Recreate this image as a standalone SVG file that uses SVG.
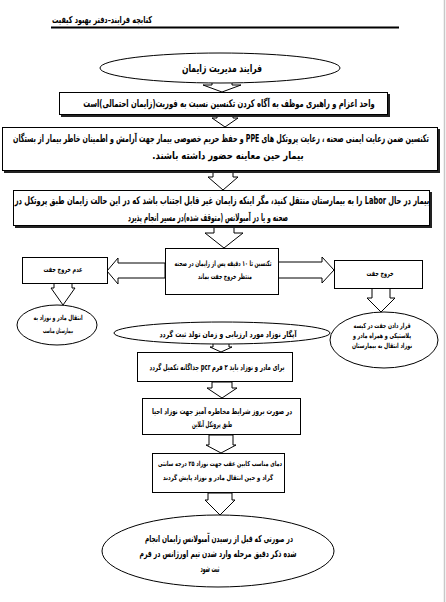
<svg xmlns="http://www.w3.org/2000/svg" width="446" height="602" viewBox="0 0 446 602">
<style>
.t{font-family:"DejaVu Sans",sans-serif;font-weight:bold;fill:#000;text-anchor:middle}
.box{fill:#fff;stroke:#000;stroke-width:1}
.sh{fill:#222}
.arr{fill:#fff;stroke:#000;stroke-width:1;stroke-linejoin:miter}
</style>
<rect x="0" y="0" width="446" height="602" fill="#fff"/>
<line x1="444.5" y1="0" x2="444.5" y2="602" stroke="#c8c8c8" stroke-width="1.5"/>

<g id="header">
<text class="t" x="102" y="23" font-size="9.5" textLength="100" lengthAdjust="spacingAndGlyphs">&#x202B;کتابچه فرایند–دفتر بهبود کیفیت&#x202C;</text>
<line x1="51" y1="27.5" x2="399" y2="27.5" stroke="#000" stroke-width="2"/>
</g>

<g id="connectors">
<path class="arr" d="M212,78 L232,78 L232,85 L241,85 L222,92 L203,85 L212,85 Z"/>
<path class="arr" d="M217,115 L233,115 L233,118 L238,118 L225,127 L212,118 L217,118 Z"/>
<path class="arr" d="M213,171 L233,171 L233,177 L238,177 L223,190 L208,177 L213,177 Z"/>
<path class="arr" d="M214,226 L234,226 L234,233 L243,233 L224,248 L205,233 L214,233 Z"/>
<path class="arr" d="M165,263 L118,263 L118,258 L107,271 L118,284 L118,278 L165,278 Z"/>
<path class="arr" d="M278,262 L322,262 L322,257 L334,270 L322,283 L322,278 L278,278 Z"/>
<path class="arr" d="M54,283 L72,283 L72,288 L75,288 L63,305 L51,288 L54,288 Z"/>
<path class="arr" d="M372,288 L390,288 L390,298 L395,298 L381,312 L367,298 L372,298 Z"/>
<path class="arr" d="M213,340 L229,340 L229,347 L232,347 L221,352 L210,347 L213,347 Z"/>
<path class="arr" d="M212,382 L232,382 L232,388 L237,388 L222,398 L207,388 L212,388 Z"/>
<path class="arr" d="M209,435 L233,435 L233,445 L236,445 L221,453 L206,445 L209,445 Z"/>
<path class="arr" d="M208,493 L232,493 L232,500 L235,500 L220,515 L205,500 L208,500 Z"/>
</g>

<g id="start">
<ellipse class="box" cx="220" cy="68" rx="120" ry="15"/>
<text class="t" x="222" y="72" font-size="11" textLength="80" lengthAdjust="spacingAndGlyphs">&#x202B;فرایند مدیریت زایمان&#x202C;</text>
</g>

<g id="box1">
<rect class="sh" x="61" y="94" width="329" height="23"/>
<rect class="box" x="59.5" y="92.5" width="328" height="22"/>
<text class="t" x="229" y="107" font-size="10.5" transform="matrix(0.641,0,0,1,82.2,0)">&#x202B;واحد اعزام و راهبری موظف به آگاه کردن تکنسین نسبت به فوریت(زایمان احتمالی)است&#x202C;</text>
</g>

<g id="box2">
<rect class="sh" x="4" y="129" width="436" height="44"/>
<rect class="box" x="2.5" y="127.5" width="435" height="43"/>
<text class="t" x="221" y="142" font-size="10.5" transform="matrix(0.6025,0,0,1,87.85,0)">&#x202B;تکنسین ضمن رعایت ایمنی صحنه ، رعایت پروتکل های PPE و حفظ حریم خصوصی بیمار جهت آرامش و اطمینان خاطر بیمار از بستگان&#x202C;</text>
<text class="t" x="228" y="159" font-size="10.5" transform="matrix(0.802,0,0,1,45.1,0)">&#x202B;بیمار حین معاینه حضور داشته باشند.&#x202C;</text>
</g>

<g id="box3">
<rect class="sh" x="15" y="192" width="417" height="36"/>
<rect class="box" x="13.5" y="190.5" width="416" height="35"/>
<text class="t" x="222" y="204" font-size="10.5" transform="matrix(0.634,0,0,1,81.2,0)">&#x202B;بیمار در حال Labor را به بیمارستان منتقل کنید، مگر اینکه زایمان غیر قابل اجتناب باشد که در این حالت زایمان طبق پروتکل در&#x202C;</text>
<text class="t" x="208" y="221" font-size="10.5" textLength="160" lengthAdjust="spacingAndGlyphs">&#x202B;صحنه و یا در آمبولانس (متوقف شده)در مسیر انجام پذیرد&#x202C;</text>
</g>

<g id="wait">
<rect class="box" x="165.5" y="248.5" width="113" height="46"/>
<text class="t" x="223" y="266" font-size="7.5" textLength="97" lengthAdjust="spacingAndGlyphs">&#x202B;تکنسین تا ۱۰ دقیقه پس از زایمان در صحنه&#x202C;</text>
<text class="t" x="225" y="279" font-size="7.5" textLength="54" lengthAdjust="spacingAndGlyphs">&#x202B;منتظر خروج جفت بماند&#x202C;</text>
</g>

<g id="noexit">
<rect class="box" x="22.5" y="257.5" width="85" height="26"/>
<text class="t" x="63" y="272" font-size="7.5" textLength="39" lengthAdjust="spacingAndGlyphs">&#x202B;عدم خروج جفت&#x202C;</text>
</g>

<g id="exit">
<rect class="box" x="334.5" y="260.5" width="88" height="28"/>
<text class="t" x="380" y="276" font-size="7.5" textLength="27" lengthAdjust="spacingAndGlyphs">&#x202B;خروج جفت&#x202C;</text>
</g>

<g id="transfer">
<ellipse class="box" cx="57" cy="325" rx="40" ry="20"/>
<text class="t" x="58" y="320" font-size="7" textLength="49" lengthAdjust="spacingAndGlyphs">&#x202B;انتقال مادر و نوزاد به&#x202C;</text>
<text class="t" x="58" y="333" font-size="7" textLength="30" lengthAdjust="spacingAndGlyphs">&#x202B;بیمارستان مناسب&#x202C;</text>
</g>

<g id="placenta">
<ellipse class="box" cx="384" cy="340" rx="54" ry="28"/>
<text class="t" x="382" y="328" font-size="7" textLength="57" lengthAdjust="spacingAndGlyphs">&#x202B;قرار دادن جفت در کیسه&#x202C;</text>
<text class="t" x="382" y="338" font-size="7" textLength="58" lengthAdjust="spacingAndGlyphs">&#x202B;پلاستیکی و همراه مادر و&#x202C;</text>
<text class="t" x="382" y="348" font-size="7" textLength="60" lengthAdjust="spacingAndGlyphs">&#x202B;نوزاد انتقال به بیمارستان&#x202C;</text>
</g>

<g id="apgar">
<ellipse class="box" cx="222" cy="333" rx="108" ry="11"/>
<text class="t" x="228" y="337" font-size="8" textLength="137" lengthAdjust="spacingAndGlyphs">&#x202B;آپگار نوزاد مورد ارزیابی و زمان تولد ثبت گردد&#x202C;</text>
</g>

<g id="pcr">
<rect class="box" x="137.5" y="352.5" width="155" height="29"/>
<text class="t" x="217" y="370" font-size="8" textLength="135" lengthAdjust="spacingAndGlyphs">&#x202B;برای مادر و نوزاد باید ۲ فرم pcr جداگانه تکمیل گردد&#x202C;</text>
</g>

<g id="resus">
<rect class="box" x="142.5" y="398.5" width="158" height="36"/>
<text class="t" x="222" y="414" font-size="8" textLength="140" lengthAdjust="spacingAndGlyphs">&#x202B;در صورت بروز شرایط مخاطره آمیز جهت نوزاد احیا&#x202C;</text>
<text class="t" x="212" y="427" font-size="8" textLength="40" lengthAdjust="spacingAndGlyphs">&#x202B;طبق پروتکل آنلاین&#x202C;</text>
</g>

<g id="temp">
<rect class="box" x="152.5" y="453.5" width="132" height="39"/>
<text class="t" x="220" y="466" font-size="7" textLength="124" lengthAdjust="spacingAndGlyphs">&#x202B;دمای مناسب کابین عقب جهت نوزاد ۲۵ درجه سانتی&#x202C;</text>
<text class="t" x="218" y="480" font-size="7" textLength="110" lengthAdjust="spacingAndGlyphs">&#x202B;گراد و حین انتقال مادر و نوزاد پایش گردند&#x202C;</text>
</g>

<g id="end">
<ellipse class="box" cx="218" cy="551" rx="116" ry="36"/>
<text class="t" x="219" y="542" font-size="9.5" textLength="148" lengthAdjust="spacingAndGlyphs">&#x202B;در صورتی که قبل از رسیدن آمبولانس زایمان انجام&#x202C;</text>
<text class="t" x="218" y="557" font-size="9.5" textLength="157" lengthAdjust="spacingAndGlyphs">&#x202B;شده ذکر دقیق مرحله وارد شدن تیم اورژانس در فرم&#x202C;</text>
<text class="t" x="210" y="572" font-size="9.5" textLength="19" lengthAdjust="spacingAndGlyphs">&#x202B;ثبت شود&#x202C;</text>
</g>
</svg>
